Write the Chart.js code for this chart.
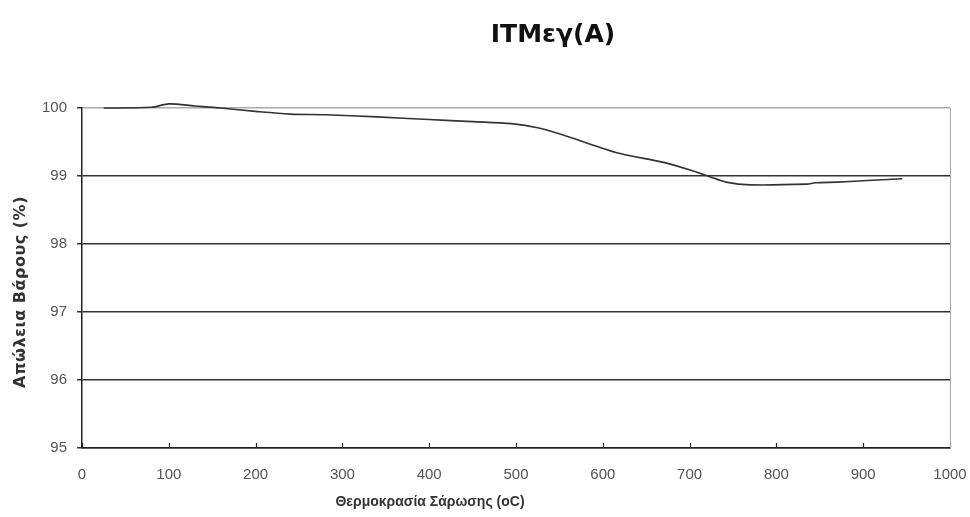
<!DOCTYPE html>
<html>
<head>
<meta charset="utf-8">
<script src="https://cdn.jsdelivr.net/npm/chart.js@4"></script>
<style>
  html, body { margin: 0; padding: 0; background: #fff; }
</style>
</head>
<body>
<canvas id="chart" width="970" height="517"></canvas>
<script>
const chartTitle = 'ΙΤΜεγ(Α)'
const xTitle = 'Θερμοκρασία Σάρωσης (oC)'
const yTitle = 'Απώλεια Βάρους (%)'

// temperature (oC)
const temps = [25, 80, 100, 130, 160, 200, 240, 280, 340, 400, 450, 495, 525, 555, 590, 620, 670, 705, 723, 742, 770, 835, 845, 870, 900, 945]
// weight (%) at each temperature
const weights = [100.0, 100.01, 100.06, 100.03, 100.0, 99.95, 99.91, 99.9, 99.87, 99.83, 99.8, 99.77, 99.71, 99.6, 99.45, 99.33, 99.2, 99.07, 98.99, 98.91, 98.87, 98.88, 98.9, 98.91, 98.93, 98.96]

const xMin = 0, xMax = 1000, xStep = 100
const yMin = 95, yMax = 100, yStep = 1

const points = temps.map((t, i) => ({ x: t, y: weights[i] }))

// titles, inside x ticks and the plot border on the right
const extras = {
    id: 'extras',
    afterDraw(chart) {
        const { ctx, chartArea, scales } = chart
        ctx.save()
        ctx.strokeStyle = '#222'
        ctx.lineWidth = 1.2
        scales.x.ticks.forEach(t => {
            const px = Math.round(scales.x.getPixelForValue(t.value)) + 0.5
            ctx.beginPath()
            ctx.moveTo(px, chartArea.bottom)
            ctx.lineTo(px, chartArea.bottom - 5)
            ctx.stroke()
        })
        ctx.strokeStyle = '#aaa'
        ctx.lineWidth = 1
        ctx.beginPath()
        ctx.moveTo(chartArea.right + 0.5, chartArea.top)
        ctx.lineTo(chartArea.right + 0.5, chartArea.bottom)
        ctx.stroke()

        ctx.fillStyle = '#111'
        ctx.textAlign = 'center'
        ctx.textBaseline = 'alphabetic'
        ctx.font = 'bold 25px "DejaVu Sans"'
        ctx.fillText(chartTitle, 553, 42)

        ctx.fillStyle = '#333'
        ctx.font = 'bold 14px "Liberation Sans"'
        ctx.fillText(xTitle, 430, 506)

        ctx.translate(25, 292)
        ctx.rotate(-Math.PI / 2)
        ctx.font = 'bold 16px "DejaVu Sans"'
        ctx.letterSpacing = '0.5px'
        ctx.fillText(yTitle, 0, 0)
        ctx.restore()
    }
}

new Chart(document.getElementById('chart'), {
    type: 'scatter',
    data: {
        datasets: [{
            data: points,
            showLine: true,
            borderColor: '#333',
            borderWidth: 1.6,
            pointRadius: 0,
            tension: 0.3,
            clip: 8
        }]
    },
    options: {
        responsive: false,
        animation: false,
        layout: { padding: { top: 108, right: 0, left: 0, bottom: 0 } },
        plugins: {
            legend: { display: false },
            title: { display: false },
            tooltip: { enabled: false }
        },
        scales: {
            x: {
                type: 'linear',
                min: xMin,
                max: xMax,
                ticks: {
                    stepSize: xStep,
                    color: '#555',
                    font: { family: 'Liberation Sans', size: 15 },
                    padding: 18,
                    callback: v => String(v)
                },
                grid: { display: false, drawTicks: false },
                border: { color: '#222', width: 1.5 },
                afterFit(scale) {
                    scale.height = 69
                    scale.paddingRight = 20
                }
            },
            y: {
                min: yMin,
                max: yMax,
                ticks: {
                    stepSize: yStep,
                    color: '#555',
                    font: { family: 'Liberation Sans', size: 15 },
                    padding: 10
                },
                grid: {
                    color: ctx => ctx.tick && ctx.tick.value === yMax ? '#aaa' : '#333',
                    lineWidth: 1.5,
                    tickLength: 5,
                    tickColor: '#333'
                },
                border: { color: '#222', width: 1.5 },
                afterFit(scale) { scale.width = 82 }
            }
        }
    },
    plugins: [extras]
})
</script>
</body>
</html>
